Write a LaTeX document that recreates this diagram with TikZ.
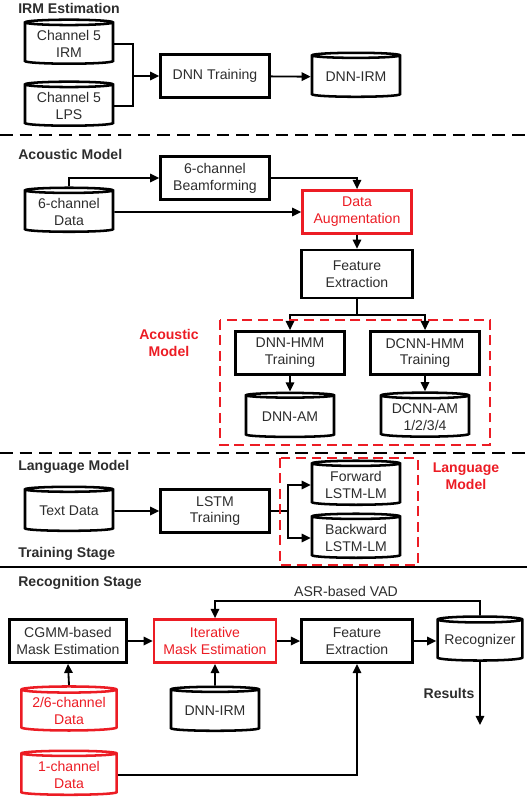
\documentclass[tikz,border=0pt]{standalone}
\usepackage{fontspec}
\setmainfont{Liberation Sans}
\usetikzlibrary{shapes.geometric,arrows.meta}
\definecolor{mred}{RGB}{236,28,36}
\definecolor{txt}{RGB}{45,45,45}
\tikzset{
  box/.style={draw,line width=1.8pt,align=center,minimum width=2.72cm,minimum height=1.08cm,inner sep=1pt,text=txt},
  db/.style={cylinder,shape border rotate=90,aspect=0.08,draw,line width=1.8pt,align=center,minimum width=2.2cm,minimum height=1.1cm,inner sep=1pt,text=txt},
  arr/.style={-{Triangle[length=6.5pt,width=6pt]},line width=1.3pt},
  link/.style={line width=1.3pt},
  head/.style={font=\bfseries,text=txt,anchor=west,inner sep=0pt},
  redhead/.style={font=\bfseries,text=mred,align=center,inner sep=0pt},
  sep/.style={line width=1.1pt,dash pattern=on 9pt off 5pt},
  redbox/.style={draw=mred,line width=1.6pt,dash pattern=on 7pt off 4pt}
}
\begin{document}
\begin{tikzpicture}[x=0.025cm,y=-0.025cm]
  \useasboundingbox (0,0) rectangle (527,798);

  % IRM estimation
  \node[head] (irmhead) at (18,8) {IRM Estimation};
  \node[db] (irm) at (69,44)  {Channel 5\\IRM};
  \node[db] (lps) at (69,106) {Channel 5\\LPS};
  \node[box] (dnntr) at (215,76) {DNN Training};
  \node[db] (dnnirm) at (356,77) {DNN-IRM};
  \coordinate (j1) at (133,76);
  \draw[link] (irm.east) -| (j1);
  \draw[link] (lps.east) -| (j1);
  \draw[arr] (j1) -- (dnntr.west);
  \draw[arr] (dnntr) -- (dnnirm);

  \draw[sep] (0,135) -- (527,135);

  % acoustic model
  \node[head] (amhead) at (18,154) {Acoustic Model};
  \node[box] (beam) at (215,178) {6-channel\\Beamforming};
  \node[db] (sixch) at (69,212) {6-channel\\Data};
  \node[box,draw=mred,text=mred] (aug) at (357,212) {Data\\Augmentation};
  \node[box,minimum width=2.78cm,minimum height=1.2cm] (feat) at (357,274) {Feature\\Extraction};
  \node[box] (dnnhmm) at (290,353) {DNN-HMM\\Training};
  \node[box] (dcnnhmm) at (425,353) {DCNN-HMM\\Training};
  \node[db] (dnnam) at (290,417) {DNN-AM};
  \node[db] (dcnnam) at (425,417) {DCNN-AM\\1/2/3/4};
  \node[redhead] (amred) at (169,343) {Acoustic\\Model};
  \draw[arr] (sixch.north) |- (beam.west);
  \draw[arr] (beam.east) -| (aug.north);
  \draw[arr] (sixch.east) -- (aug.west);
  \draw[arr] (aug) -- (feat);
  \coordinate (j2) at (357,315);
  \draw[link] (feat.south) -- (j2);
  \draw[arr] (j2) -| (dnnhmm.north);
  \draw[arr] (j2) -| (dcnnhmm.north);
  \draw[arr] (dnnhmm) -- (dnnam);
  \draw[arr] (dcnnhmm) -- (dcnnam);
  \draw[redbox] (220,320) rectangle (490,445);

  \draw[sep] (0,453) -- (527,453);

  % language model
  \node[head] (lmhead) at (18,467) {Language Model};
  \node[db] (textdata) at (69,511) {Text Data};
  \node[box] (lstm) at (215,511) {LSTM\\Training};
  \node[db] (fwd) at (356,485) {Forward\\LSTM-LM};
  \node[db] (bwd) at (356,538) {Backward\\LSTM-LM};
  \node[redhead] (lmred) at (466,476) {Language\\Model};
  \node[head] (trhead) at (18,554) {Training Stage};
  \draw[arr] (textdata) -- (lstm);
  \coordinate (j3) at (288,511);
  \draw[link] (lstm.east) -- (j3);
  \draw[arr] (j3) |- (fwd.west);
  \draw[arr] (j3) |- (bwd.west);
  \draw[redbox] (280,458) rectangle (418,565);

  \draw[line width=1.1pt] (0,567) -- (527,567);

  % recognition
  \node[head] (rchead) at (18,583) {Recognition Stage};
  \node[box,minimum width=2.92cm] (cgmm) at (68,641) {CGMM-based\\Mask Estimation};
  \node[box,minimum width=3.05cm,draw=mred,text=mred] (iter) at (215,641) {Iterative\\Mask Estimation};
  \node[box,minimum width=2.78cm] (feat2) at (357,641) {Feature\\Extraction};
  \node[db,minimum width=2.12cm] (recog) at (480,641) {Recognizer};
  \node[db,minimum width=2.38cm,draw=mred,text=mred] (data26) at (69,711) {2/6-channel\\Data};
  \node[db] (dnnirm2) at (215,711) {DNN-IRM};
  \node[db,minimum width=2.38cm,draw=mred,text=mred] (data1) at (69,775) {1-channel\\Data};
  \node[text=txt,inner sep=1pt] (vad) at (346,591) {ASR-based VAD};
  \node[head,anchor=center] (results) at (449,693) {Results};
  \coordinate (fb) at (480,601);
  \coordinate (res) at (480,725);
  \draw[arr] (cgmm) -- (iter);
  \draw[arr] (iter) -- (feat2);
  \draw[arr] (feat2) -- (recog);
  \draw[arr] (recog.north) -- (fb) -| (iter.north);
  \draw[arr] (data26.north) -- (cgmm.south);
  \draw[arr] (dnnirm2.north) -- (iter.south);
  \draw[arr] (data1.east) -| (feat2.south);
  \draw[arr] (recog.south) -- (res);
\end{tikzpicture}
\end{document}
